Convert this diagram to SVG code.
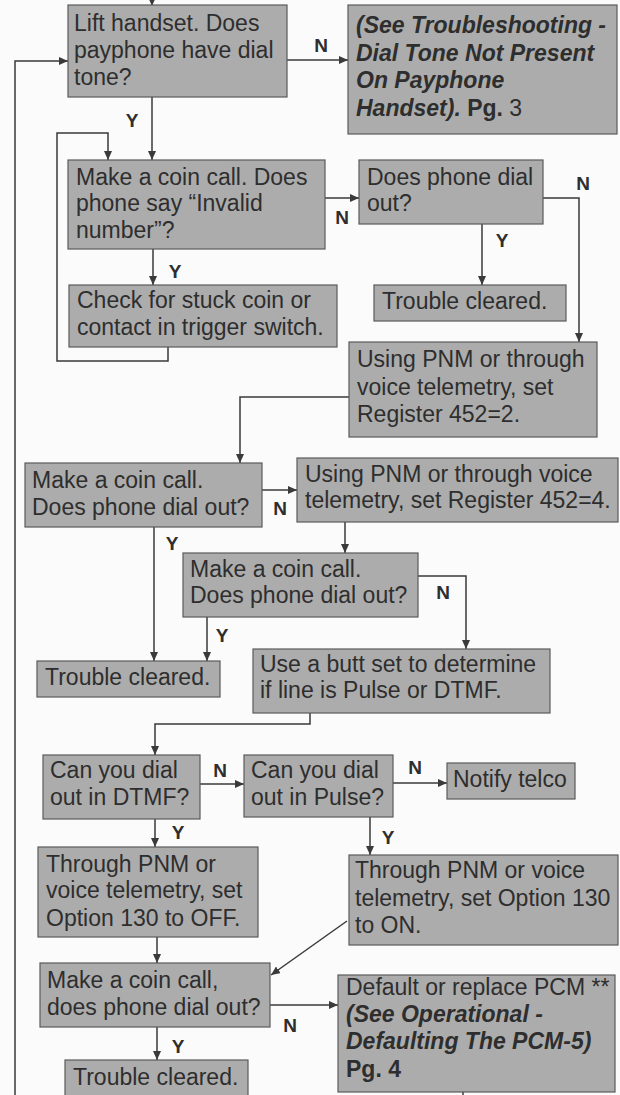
<svg xmlns="http://www.w3.org/2000/svg" width="620" height="1095" viewBox="0 0 620 1095">
<defs>
<marker id="ah" markerUnits="userSpaceOnUse" markerWidth="9" markerHeight="8" refX="9" refY="4" orient="auto">
<path d="M0,0 L9,4 L0,8 z" fill="#3a3a3a"/>
</marker>
<style>
.box{fill:#acacac;stroke:#5a5a5a;stroke-width:1.2}
.t{font-family:"Liberation Sans",Arial,sans-serif;font-size:23px;fill:#2e2e2e}
.bi{font-weight:bold;font-style:italic}
.b{font-weight:bold}
.lbl{font-family:"Liberation Sans",Arial,sans-serif;font-size:19px;font-weight:bold;fill:#2e2e2e;text-anchor:middle}
.c{fill:none;stroke:#3a3a3a;stroke-width:1.5}
.ca{fill:none;stroke:#3a3a3a;stroke-width:1.5;marker-end:url(#ah)}
</style>
</defs>
<rect width="620" height="1095" fill="#fbfbfb"/>
<g id="connectors">
<path class="ca" d="M152,0 V6"/>
<path class="ca" d="M15,1095 V61 H68"/>
<path class="ca" d="M287,60 H348"/>
<path class="ca" d="M152,97 V160"/>
<path class="ca" d="M325,198 H359"/>
<path class="ca" d="M543,198 H579 V342"/>
<path class="ca" d="M482,224 V285"/>
<path class="ca" d="M153,249 V285"/>
<path class="ca" d="M168,347 V361 H57 V133 H108 V160"/>
<path class="ca" d="M349,397 H240 V463"/>
<path class="ca" d="M262,490 H297"/>
<path class="ca" d="M345,522 V553"/>
<path class="ca" d="M418,576 H466 V649"/>
<path class="ca" d="M154,527 V661"/>
<path class="ca" d="M207,617 V661"/>
<path class="ca" d="M310,713 V724 H155 V755"/>
<path class="ca" d="M200,784 H244"/>
<path class="ca" d="M393,783 H447"/>
<path class="ca" d="M370,817 V855"/>
<path class="ca" d="M155,819 V847"/>
<path class="ca" d="M157,937 V963"/>
<path class="ca" d="M347,921 L271,975"/>
<path class="ca" d="M270,1005 H338"/>
<path class="c" d="M463,1092 V1095"/>
<path class="ca" d="M157,1027 V1060"/>
</g>
<g id="labels">
<text class="lbl" x="321" y="52">N</text>
<text class="lbl" x="132" y="127">Y</text>
<text class="lbl" x="342" y="224">N</text>
<text class="lbl" x="583" y="190">N</text>
<text class="lbl" x="502" y="247">Y</text>
<text class="lbl" x="175" y="278">Y</text>
<text class="lbl" x="280" y="515">N</text>
<text class="lbl" x="172" y="550">Y</text>
<text class="lbl" x="443" y="599">N</text>
<text class="lbl" x="222" y="642">Y</text>
<text class="lbl" x="220" y="777">N</text>
<text class="lbl" x="415" y="774">N</text>
<text class="lbl" x="388" y="844">Y</text>
<text class="lbl" x="178" y="839">Y</text>
<text class="lbl" x="290" y="1032">N</text>
<text class="lbl" x="178" y="1053">Y</text>
</g>
<g id="n1"><rect class="box" x="68" y="5" width="219" height="92"/>
<text class="t" x="74"><tspan x="74" y="31">Lift handset. Does</tspan><tspan x="74" y="58">payphone have dial</tspan><tspan x="74" y="85">tone?</tspan></text></g>
<g id="n2"><rect class="box" x="348" y="5" width="269" height="129"/>
<text class="t bi"><tspan x="356" y="33">(See Troubleshooting -</tspan><tspan x="356" y="61">Dial Tone Not Present</tspan><tspan x="356" y="88">On Payphone</tspan><tspan x="356" y="116">Handset).<tspan font-style="normal"> Pg.</tspan><tspan font-style="normal" font-weight="normal"> 3</tspan></tspan></text></g>
<g id="n3"><rect class="box" x="68" y="160" width="257" height="89"/>
<text class="t"><tspan x="76" y="185">Make a coin call. Does</tspan><tspan x="76" y="211">phone say “Invalid</tspan><tspan x="76" y="238">number”?</tspan></text></g>
<g id="n4"><rect class="box" x="359" y="160" width="184" height="64"/>
<text class="t"><tspan x="367" y="185">Does phone dial</tspan><tspan x="367" y="211">out?</tspan></text></g>
<g id="n5"><rect class="box" x="374" y="285" width="192" height="36"/>
<text class="t" x="382" y="309">Trouble cleared.</text></g>
<g id="n6"><rect class="box" x="69" y="285" width="268" height="62"/>
<text class="t"><tspan x="77" y="308">Check for stuck coin or</tspan><tspan x="77" y="335">contact in trigger switch.</tspan></text></g>
<g id="n7"><rect class="box" x="349" y="342" width="248" height="95"/>
<text class="t"><tspan x="357" y="367">Using PNM or through</tspan><tspan x="357" y="395">voice telemetry, set</tspan><tspan x="357" y="422">Register 452=2.</tspan></text></g>
<g id="n8"><rect class="box" x="25" y="463" width="237" height="64"/>
<text class="t"><tspan x="32" y="488">Make a coin call.</tspan><tspan x="32" y="515">Does phone dial out?</tspan></text></g>
<g id="n9"><rect class="box" x="297" y="458" width="321" height="64"/>
<text class="t"><tspan x="305" y="482">Using PNM or through voice</tspan><tspan x="305" y="508">telemetry, set Register 452=4.</tspan></text></g>
<g id="n10"><rect class="box" x="183" y="553" width="235" height="64"/>
<text class="t"><tspan x="190" y="577">Make a coin call.</tspan><tspan x="190" y="603">Does phone dial out?</tspan></text></g>
<g id="n11"><rect class="box" x="37" y="661" width="183" height="36"/>
<text class="t" x="45" y="685">Trouble cleared.</text></g>
<g id="n12"><rect class="box" x="253" y="649" width="297" height="64"/>
<text class="t"><tspan x="260" y="672">Use a butt set to determine</tspan><tspan x="260" y="698">if line is Pulse or DTMF.</tspan></text></g>
<g id="n13"><rect class="box" x="43" y="755" width="157" height="64"/>
<text class="t"><tspan x="50" y="778">Can you dial</tspan><tspan x="50" y="805">out in DTMF?</tspan></text></g>
<g id="n14"><rect class="box" x="244" y="755" width="149" height="62"/>
<text class="t"><tspan x="251" y="778">Can you dial</tspan><tspan x="251" y="805">out in Pulse?</tspan></text></g>
<g id="n15"><rect class="box" x="447" y="763" width="128" height="36"/>
<text class="t" x="453" y="787">Notify telco</text></g>
<g id="n16"><rect class="box" x="349" y="855" width="269" height="90"/>
<text class="t"><tspan x="355" y="878">Through PNM or voice</tspan><tspan x="355" y="906">telemetry, set Option 130</tspan><tspan x="355" y="933">to ON.</tspan></text></g>
<g id="n17"><rect class="box" x="38" y="847" width="220" height="90"/>
<text class="t"><tspan x="46" y="872">Through PNM or</tspan><tspan x="46" y="898">voice telemetry, set</tspan><tspan x="46" y="926">Option 130 to OFF.</tspan></text></g>
<g id="n18"><rect class="box" x="40" y="963" width="230" height="64"/>
<text class="t"><tspan x="47" y="988">Make a coin call,</tspan><tspan x="47" y="1015">does phone dial out?</tspan></text></g>
<g id="n19"><rect class="box" x="338" y="975" width="277" height="117"/>
<text class="t"><tspan x="346" y="995">Default or replace PCM **</tspan><tspan class="bi" x="346" y="1022">(See Operational -</tspan><tspan class="bi" x="346" y="1049">Defaulting The PCM-5)</tspan><tspan class="b" x="346" y="1077">Pg. 4</tspan></text></g>
<g id="n20"><rect class="box" x="65" y="1060" width="183" height="40"/>
<text class="t" x="73" y="1085">Trouble cleared.</text></g>
</svg>
